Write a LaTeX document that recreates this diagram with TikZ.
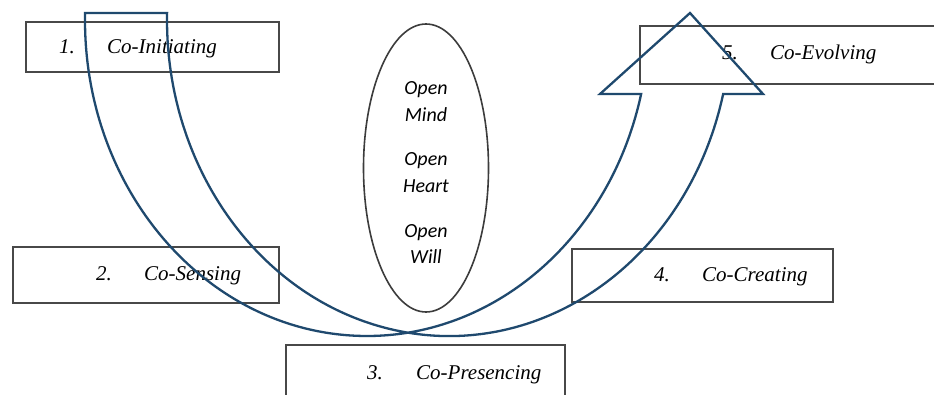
\documentclass[tikz,border=0pt]{standalone}
\usepackage{fontspec}
\setmainfont{Liberation Serif}
\newfontfamily\calibfont{Carlito}
\usetikzlibrary{shapes.geometric}
\definecolor{arrowblue}{RGB}{31,73,110}
\definecolor{boxgrey}{RGB}{72,72,72}
\definecolor{ellgrey}{RGB}{60,60,60}
\tikzset{
  stagebox/.style={draw=boxgrey, line width=2.4pt, fill=white, rectangle, inner sep=0pt},
  stagelab/.style={inner sep=0pt, anchor=base west, font=\fontsize{21}{24}\selectfont\itshape},
  openlab/.style={inner sep=0pt, anchor=base, font=\calibfont\fontsize{20}{24}\selectfont\itshape},
  uarrow/.style={draw=arrowblue, line width=2.3pt, line join=miter},
}
\begin{document}
\begin{tikzpicture}[x=1pt,y=-1pt]
\clip (0,0) rectangle (934,394);
\fill[white] (0,0) rectangle (934,394);
% boxes
\node[stagebox, minimum width=253pt, minimum height=50pt] (b1) at (152.5,47) {};
\node[stagelab] (n1) at (59,53) {1.};
\node[stagelab] (l1) at (107,53) {Co-Initiating};

\node[stagebox, minimum width=266pt, minimum height=56pt] (b2) at (146,275) {};
\node[stagelab] (n2) at (96,280) {2.};
\node[stagelab] (l2) at (144,280) {Co-Sensing};

\node[stagebox, minimum width=279pt, minimum height=70pt] (b3) at (425.5,380) {};
\node[stagelab] (n3) at (367,379) {3.};
\node[stagelab] (l3) at (416,379) {Co-Presencing};

\node[stagebox, minimum width=261pt, minimum height=53pt] (b4) at (702.5,275.5) {};
\node[stagelab] (n4) at (654,281) {4.};
\node[stagelab] (l4) at (702,281) {Co-Creating};

\node[stagebox, minimum width=310pt, minimum height=58pt] (b5) at (795,55) {};
\node[stagelab] (n5) at (722,59) {5.};
\node[stagelab] (l5) at (770,59) {Co-Evolving};

% ellipse
\node[draw=ellgrey, line width=1.6pt, ellipse, inner sep=0pt, minimum width=125pt, minimum height=288pt] (ell) at (426,168) {};
\node[openlab] (o1) at (426,94) {Open};
\node[openlab] (o2) at (426,121) {Mind};
\node[openlab] (o3) at (426,165) {Open};
\node[openlab] (o4) at (426,192) {Heart};
\node[openlab] (o5) at (426,237) {Open};
\node[openlab] (o6) at (426,263) {Will};

% U-shaped arrow
\draw[uarrow] (85.07,13)
  arc[start angle=181.27, end angle=13.54, x radius=282, y radius=316]
  -- (600,94) -- (690,13) -- (763,94) -- (723.16,94)
  arc[start angle=13.54, end angle=181.27, x radius=282, y radius=316]
  -- cycle;
\end{tikzpicture}
\end{document}
